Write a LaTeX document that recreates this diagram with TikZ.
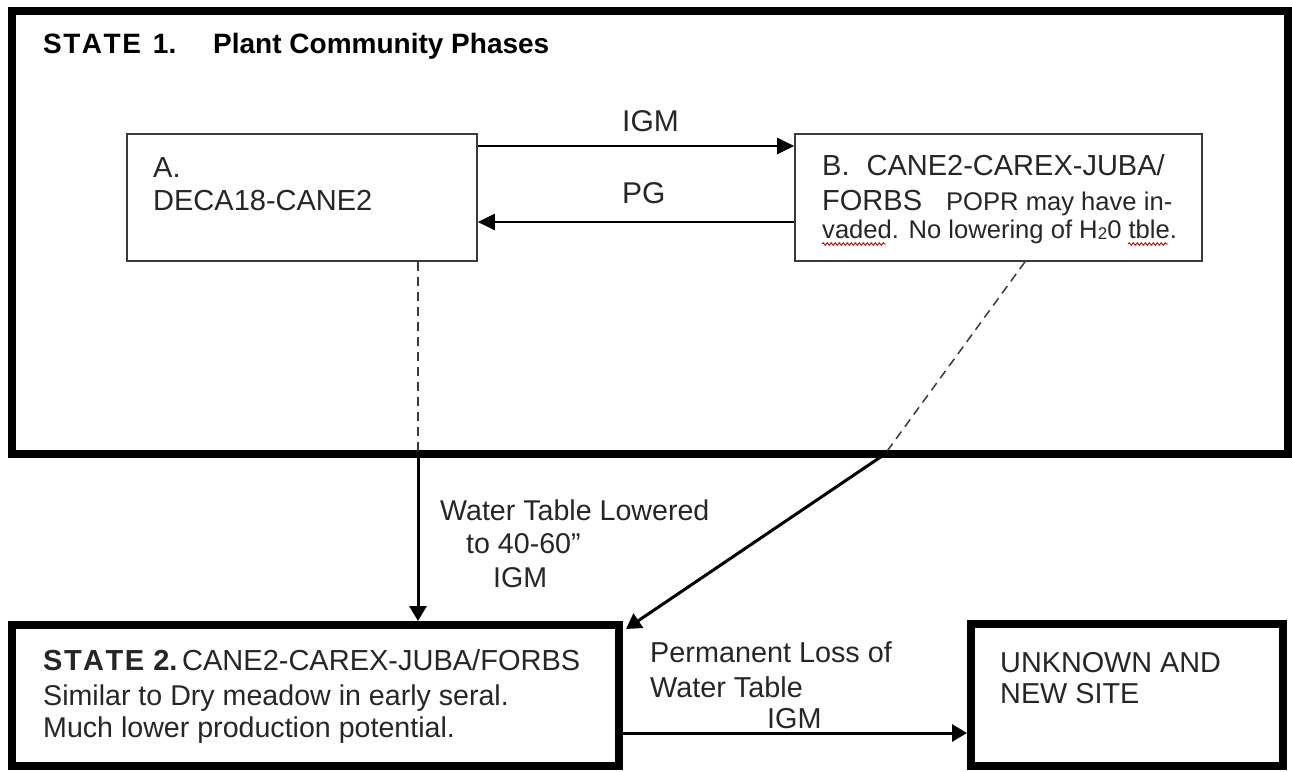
\documentclass[tikz,border=0pt]{standalone}
\usepackage{fontspec}
\setmainfont{Liberation Sans}
\usetikzlibrary{arrows.meta,decorations.pathmorphing}
\definecolor{ink}{HTML}{262626}
\definecolor{thinline}{HTML}{3A3A3A}
\begin{document}
\begin{tikzpicture}[x=1pt,y=-1pt,
  statebox/.style={draw=black, line width=7.5pt, rectangle, inner sep=0pt},
  phasebox/.style={draw=thinline, line width=1.6pt, rectangle, inner sep=0pt},
  txt/.style={anchor=base west, inner sep=0pt, text=ink, font=\fontsize{29}{34}\selectfont},
  smalltxt/.style={txt, font=\fontsize{25.6}{30}\selectfont},
  arr/.style={draw=black, line width=2pt, -{Triangle[length=17pt,width=16pt]}},
  bigarr/.style={draw=black, line width=3pt, -{Triangle[length=15pt,width=17pt]}},
  dashline/.style={draw=thinline, line width=1.5pt, dash pattern=on 9pt off 6pt},
  wavy/.style={draw=red!75!black, line width=0.9pt, decorate, decoration={snake, segment length=4pt, amplitude=1.3pt}}
]
\useasboundingbox (0,0) rectangle (1292,771);

% boxes
\node[statebox, minimum width=1276pt, minimum height=443pt] (S1) at (650,232.5) {};
\node[phasebox, minimum width=350pt, minimum height=127pt] (A) at (302,197.5) {};
\node[phasebox, minimum width=407pt, minimum height=127pt] (B) at (998.5,197.5) {};
\node[statebox, line width=8pt, minimum width=607pt, minimum height=141pt] (S2) at (315.5,695.5) {};
\node[statebox, line width=8pt, minimum width=312pt, minimum height=142pt] (U) at (1127,695) {};

% state 1 title
\node[txt, text=black, font=\bfseries\fontsize{28}{34}\selectfont] (t1) at (43,53)
  {\makebox[170pt][l]{S\kern1.5pt T\kern1.5pt A\kern1.5pt T\kern1.5pt E\kern12pt 1.}Plant Community Phases};

% box A
\node[txt] (a1) at (153,177) {A.};
\node[txt] (a2) at (153,210) {DECA18-CANE2};

% box B
\node[txt] (b1) at (822,175) {B.\kern17pt CANE2-CAREX-JUBA/};
\node[txt] (b2) at (822,210) {FORBS\kern24pt{\fontsize{25.6}{30}\selectfont POPR may have in-}};
\node[smalltxt] (b3) at (822,238) {vaded. No lowering of H{\fontsize{17}{17}\selectfont\raisebox{-1pt}{2}}0 tble.};
\draw[wavy] (822,244) -- (886,244);
\draw[wavy] (1128,244) -- (1168,244);

% labels between A and B
\node[txt, font=\fontsize{30}{34}\selectfont] (l1) at (622,131) {IGM};
\node[txt, font=\fontsize{30}{34}\selectfont] (l2) at (622,203) {PG};

% transitions within state 1
\draw[arr] ([yshift=51.5pt]A.east) -- ([yshift=51.5pt]B.west);
\draw[arr] ([yshift=-24.5pt]B.west) -- ([yshift=-24.5pt]A.east);

% transitions to state 2
\coordinate (j1) at (418,454);
\coordinate (j2) at (885,454);
\draw[dashline] ([xshift=116pt]A.south) -- (j1);
\draw[dashline] ([xshift=26.5pt]B.south) -- (j2);
\draw[bigarr] (j1) -- (j1 |- S2.north);
\draw[bigarr] (j2) -- ([xshift=3pt,yshift=-8pt]S2.north east);

\node[txt, font=\fontsize{28.6}{34}\selectfont] (w1) at (440,520) {Water Table Lowered};
\node[txt, font=\fontsize{28.6}{34}\selectfont] (w2) at (466,553) {to 40-60”};
\node[txt, font=\fontsize{28.6}{34}\selectfont] (w3) at (493,587) {IGM};

% state 2 text
\node[txt] (s1) at (43,670)
  {\makebox[139pt][l]{\bfseries\fontsize{29}{34}\selectfont S\kern1.5pt T\kern1.5pt A\kern1.5pt T\kern1.5pt E\kern9pt 2.}CANE2-CAREX-JUBA/FORBS};
\node[txt, font=\fontsize{28.6}{34}\selectfont] (s2) at (43,705) {Similar to Dry meadow in early seral.};
\node[txt, font=\fontsize{28.6}{34}\selectfont] (s3) at (43,737) {Much lower production potential.};

% state 2 -> unknown
\draw[bigarr] ([yshift=-37.5pt]S2.east) -- ([yshift=-37.5pt]S2.east -| U.west);
\node[txt, font=\fontsize{28.8}{34}\selectfont] (p1) at (650,662) {Permanent Loss of};
\node[txt, font=\fontsize{28.8}{34}\selectfont] (p2) at (650,697) {Water Table};
\node[txt, font=\fontsize{28.8}{34}\selectfont] (p3) at (767,728) {IGM};

\node[txt, font=\fontsize{28.8}{34}\selectfont] (u1) at (1000,672) {UNKNOWN AND};
\node[txt, font=\fontsize{28.8}{34}\selectfont] (u2) at (1000,703) {NEW SITE};
\end{tikzpicture}
\end{document}
